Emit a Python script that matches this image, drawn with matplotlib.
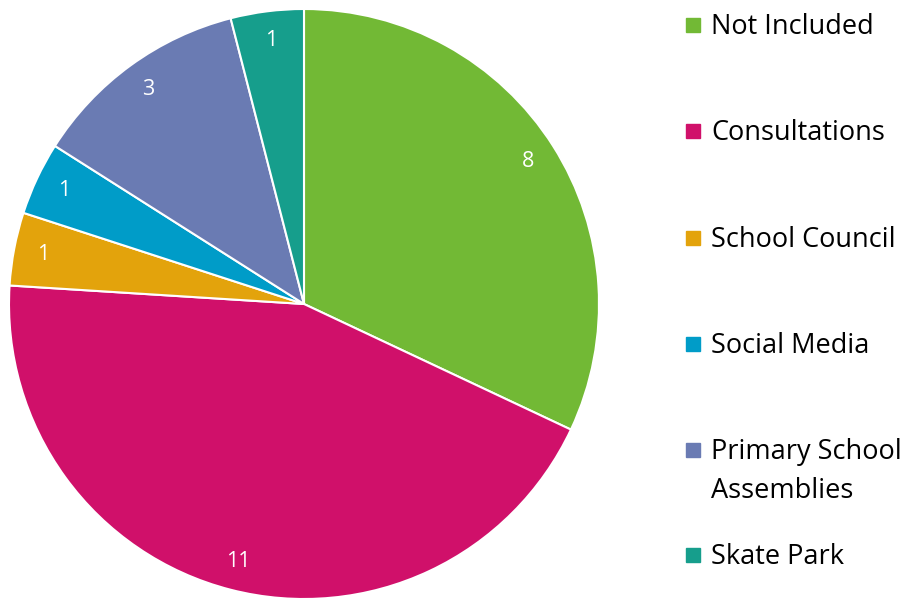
import matplotlib.pyplot as plt
from matplotlib.patches import Rectangle

# DATA

labels = ['Not Included', 'Consultations', 'School Council', 'Social Media',
          'Primary School\nAssemblies', 'Skate Park']
values = [8, 11, 1, 1, 3, 1]
colors = ['#72B935', '#D0106A', '#E3A30C', '#009CC8', '#6A7BB3', '#169E8C']

plt.rcParams['font.family'] = ['Open Sans', 'DejaVu Sans']

W, H = 908, 604
fig = plt.figure(figsize=(W / 100, H / 100), dpi=100)

# pie centre (304, 304) px from top, radius 295 px
cx, cy, r = 304, 304, 295
ax = fig.add_axes([(cx - r) / W, (H - cy - r) / H, 2 * r / W, 2 * r / H])
wedges, texts = ax.pie(values, colors=colors, startangle=90, counterclock=False,
                       labels=[str(v) for v in values], labeldistance=0.9,
                       wedgeprops=dict(edgecolor='white', linewidth=1.5),
                       textprops=dict(color='white', fontsize=15.5))
for t in texts:
    t.set_ha('center')
    t.set_va('center')
ax.set_xlim(-1, 1)
ax.set_ylim(-1, 1)
ax.set_aspect('equal')

# legend drawn by hand so the marker lines up with the first text line
ys = [25, 131, 238, 344, 450, 555]
for lab, col, y in zip(labels, colors, ys):
    fig.patches.append(Rectangle((686 / W, 1 - (y + 7) / H), 14 / W, 14 / H,
                                 color=col, transform=fig.transFigure))
    for i, line in enumerate(lab.split('\n')):
        fig.text(711 / W, 1 - (y + 9 + 39 * i) / H, line, fontsize=19.5,
                 color='black', ha='left', va='baseline')

fig.savefig('out.png', dpi=100)
